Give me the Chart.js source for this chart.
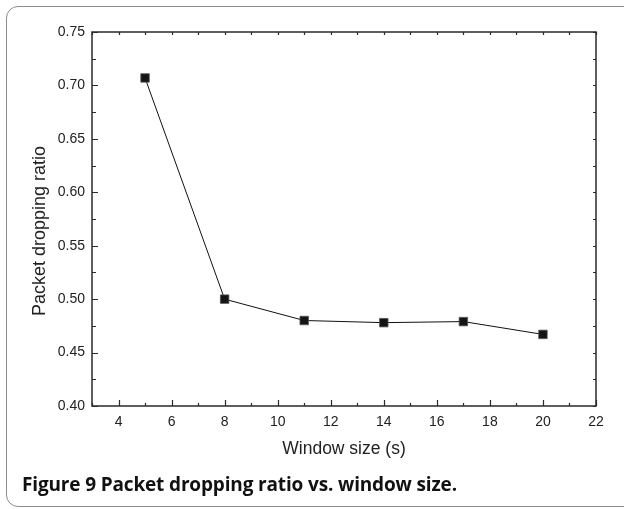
<!DOCTYPE html>
<html>
<head>
<meta charset="utf-8">
<script src="https://cdn.jsdelivr.net/npm/chart.js@4"></script>
<style>
  html, body { margin: 0; padding: 0; background: #fff; }
  body { width: 624px; height: 509px; position: relative; overflow: hidden; }
  #card {
    position: absolute; left: 6px; top: 6px; width: 660px; height: 501px;
    border: 1.5px solid #8c8c8c; border-radius: 12px; box-sizing: border-box;
  }
  #chart { position: absolute; left: 0; top: 0; }
  #caption {
    position: absolute; left: 22px; top: 474px; white-space: nowrap;
    font-family: "Open Sans", sans-serif; font-size: 19px; line-height: 20px;
    font-weight: 700; color: #111; letter-spacing: -0.15px;
  }
</style>
</head>
<body>
<div id="card"></div>
<canvas id="chart" width="624" height="509"></canvas>
<div id="caption">Figure 9 Packet dropping ratio vs. window size.</div>
<script>
// Window size (s) and the measured packet dropping ratio
const windowSizes = [5, 8, 11, 14, 17, 20];
const dropRatios = [0.707, 0.500, 0.480, 0.478, 0.479, 0.467];

// Labelled ticks and the minor ticks between them
const xTickValues = [4, 6, 8, 10, 12, 14, 16, 18, 20, 22];
const xMinorValues = [3, 5, 7, 9, 11, 13, 15, 17, 19, 21];
const yTickValues = [0.40, 0.45, 0.50, 0.55, 0.60, 0.65, 0.70, 0.75];
const yMinorValues = [0.425, 0.475, 0.525, 0.575, 0.625, 0.675, 0.725];

const yTitle = 'Packet dropping ratio';

const axisColor = '#2a2a2a';
const textColor = '#222';
const labelFont = '"Liberation Sans", Arial, sans-serif';

// Draws the box round the plot, inward-facing ticks on all four sides,
// and the vertical axis title (set a little below the plot's middle)
const frameTicks = {
  id: 'frameTicks',
  afterDatasetsDraw(chart) {
    const { ctx, chartArea: a, scales: { x, y } } = chart;
    ctx.save();
    ctx.strokeStyle = axisColor;
    ctx.lineWidth = 1.5;
    ctx.strokeRect(a.left, a.top, a.right - a.left, a.bottom - a.top);
    ctx.lineWidth = 1.2;
    ctx.beginPath();
    const major = 6, minor = 3;
    xTickValues.forEach(v => {
      const px = Math.round(x.getPixelForValue(v)) + 0.5;
      ctx.moveTo(px, a.bottom); ctx.lineTo(px, a.bottom - major);
      ctx.moveTo(px, a.top); ctx.lineTo(px, a.top + minor);
    });
    xMinorValues.forEach(v => {
      const px = Math.round(x.getPixelForValue(v)) + 0.5;
      ctx.moveTo(px, a.bottom); ctx.lineTo(px, a.bottom - minor);
      ctx.moveTo(px, a.top); ctx.lineTo(px, a.top + minor);
    });
    yTickValues.forEach(v => {
      const py = Math.round(y.getPixelForValue(v)) + 0.5;
      ctx.moveTo(a.left, py); ctx.lineTo(a.left + major, py);
      ctx.moveTo(a.right, py); ctx.lineTo(a.right - minor, py);
    });
    yMinorValues.forEach(v => {
      const py = Math.round(y.getPixelForValue(v)) + 0.5;
      ctx.moveTo(a.left, py); ctx.lineTo(a.left + minor + 1, py);
      ctx.moveTo(a.right, py); ctx.lineTo(a.right - minor, py);
    });
    ctx.stroke();

    // vertical axis title
    ctx.translate(40, (a.top + a.bottom) / 2 + 12);
    ctx.rotate(-Math.PI / 2);
    ctx.fillStyle = textColor;
    ctx.font = '18px ' + labelFont;
    ctx.textAlign = 'center';
    ctx.textBaseline = 'middle';
    ctx.fillText(yTitle, 0, 0);
    ctx.restore();
  }
};

new Chart(document.getElementById('chart'), {
  type: 'scatter',
  data: {
    datasets: [{
      data: windowSizes.map((w, i) => ({ x: w, y: dropRatios[i] })),
      showLine: true,
      borderColor: '#111',
      borderWidth: 1,
      pointStyle: 'rect',
      pointRadius: 6,
      pointBackgroundColor: '#151515',
      pointBorderColor: '#555',
      pointBorderWidth: 0.8,
      tension: 0
    }]
  },
  options: {
    responsive: false,
    animation: false,
    devicePixelRatio: 1,
    layout: { padding: { left: 0, top: 32, right: 28, bottom: 0 } },
    plugins: { legend: { display: false }, tooltip: { enabled: false } },
    scales: {
      x: {
        type: 'linear', min: 3, max: 22,
        grid: { display: false, drawTicks: false },
        border: { display: false },
        afterBuildTicks: s => { s.ticks = xTickValues.map(v => ({ value: v })); },
        afterFit: s => { s.height = 103; },
        ticks: {
          padding: 8, color: textColor,
          font: { family: labelFont, size: 14 },
          callback: v => String(v)
        },
        title: {
          display: true, text: 'Window size (s)', color: textColor,
          font: { family: labelFont, size: 17.5 },
          padding: { top: 0, bottom: 49.5 }
        }
      },
      y: {
        type: 'linear', min: 0.40, max: 0.75,
        grid: { display: false, drawTicks: false },
        border: { display: false },
        afterBuildTicks: s => { s.ticks = yTickValues.map(v => ({ value: v })); },
        afterFit: s => { s.width = 92; },
        ticks: {
          padding: 7, color: textColor,
          font: { family: labelFont, size: 14 },
          callback: v => Number(v).toFixed(2)
        },
        title: { display: false }
      }
    }
  },
  plugins: [frameTicks]
});
</script>
</body>
</html>
